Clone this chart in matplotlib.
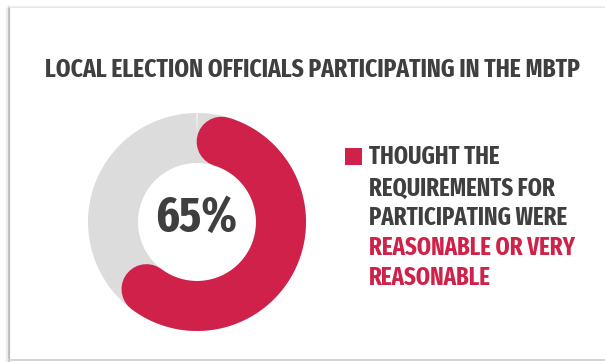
import numpy as np
import matplotlib
matplotlib.use("Agg")
import matplotlib.pyplot as plt
from matplotlib.lines import Line2D
from matplotlib import font_manager as fm

# ---- data ----
title = "LOCAL ELECTION OFFICIALS PARTICIPATING IN THE MBTP"
share_pct = 65
center_label = f"{share_pct}%"
legend_dark_lines = ["THOUGHT THE", "REQUIREMENTS FOR", "PARTICIPATING WERE"]
legend_red_lines = ["REASONABLE OR VERY", "REASONABLE"]

RED = "#CF2149"
GRAY = "#DCDCDC"
DARK = "#3F3F3F"


def pick_font():
    entries = fm.fontManager.ttflist
    def wt(e):
        w = e.weight
        if isinstance(w, str):
            return {"bold": 700, "semibold": 600, "demibold": 600,
                    "heavy": 800, "black": 900}.get(w, 400)
        return w
    prefs = ["extracondensed", "extra condensed", "condensed", "narrow", "semicondensed"]
    for key in prefs:
        for e in entries:
            nm = (e.name + " " + e.fname).lower().replace("-", "")
            if key in nm and 600 <= wt(e) <= 800 and e.style == "normal":
                if key == "condensed" and ("semicondensed" in nm or "extracondensed" in nm):
                    continue
                return fm.FontProperties(fname=e.fname)
    return fm.FontProperties(family="DejaVu Sans", weight="bold",
                             stretch="condensed")

FP = pick_font()

W, H = 605, 362
fig = plt.figure(figsize=(W / 100, H / 100), dpi=100)
fig.patch.set_facecolor("white")
renderer = fig.canvas.get_renderer()


def fx(px):
    return px / W


def fy(py):
    return 1 - py / H


def fit(t, target_w):
    bb = t.get_window_extent(renderer)
    t.set_fontsize(t.get_fontsize() * target_w / bb.width)


# card edges (shadow)
fig.add_artist(Line2D([fx(9), fx(9)], [fy(7), fy(362)], color="#bdbdbd", lw=1.6))
fig.add_artist(Line2D([fx(7), fx(7)], [fy(9), fy(362)], color="#ececec", lw=1.6))
fig.add_artist(Line2D([fx(9), fx(605)], [fy(7), fy(7)], color="#dedede", lw=1.2))
fig.add_artist(Line2D([fx(9), fx(605)], [fy(5.5), fy(5.5)], color="#f1f1f1", lw=1.0))
fig.add_artist(Line2D([fx(9), fx(605)], [fy(360), fy(360)], color="#d4d4d4", lw=1.4))

# title
tt = fig.text(fx(312), fy(70), title, ha="center", va="center",
              fontsize=20, color=DARK, fontproperties=FP)
fit(tt, 535)

# donut (polar axes)
cx, cy, R = 197, 222, 115
ax = fig.add_axes([fx(cx - R), fy(cy + R), 2 * R / W, 2 * R / H], projection="polar")
ax.set_theta_zero_location("N")
ax.set_theta_direction(-1)
ax.set_ylim(0, 1)
ax.axis("off")
r_mid = 84 / R
ring_px = 50
lw_pt = ring_px * 72 / 100
theta_full = np.linspace(0, 2 * np.pi, 500)
ax.plot(theta_full, np.full_like(theta_full, r_mid), color=GRAY, lw=lw_pt,
        solid_capstyle="butt")
cap = (ring_px / 2) / 84
theta_red = np.linspace(cap, 2 * np.pi * share_pct / 100 - cap, 400)
ax.plot(theta_red, np.full_like(theta_red, r_mid), color=RED, lw=lw_pt,
        solid_capstyle="round")
ct = fig.text(fx(196), fy(218), center_label, ha="center", va="center",
              fontsize=38, color=DARK, fontproperties=FP)
fit(ct, 82)

# legend square
fig.add_artist(plt.Rectangle((fx(345), fy(165)), 17 / W, 17 / H,
                             facecolor=RED, edgecolor="none"))
line_y = [157, 188, 218, 248, 278]
lines = legend_dark_lines + legend_red_lines
colors = [DARK] * len(legend_dark_lines) + [RED] * len(legend_red_lines)
texts = []
for txt, col, yy in zip(lines, colors, line_y):
    texts.append(fig.text(fx(369), fy(yy), txt, ha="left", va="center",
                          fontsize=16, color=col, fontproperties=FP))
bb = texts[2].get_window_extent(renderer)
scale = 198 / bb.width
for t in texts:
    t.set_fontsize(t.get_fontsize() * scale)

fig.savefig("out.png", dpi=100, facecolor="white")
